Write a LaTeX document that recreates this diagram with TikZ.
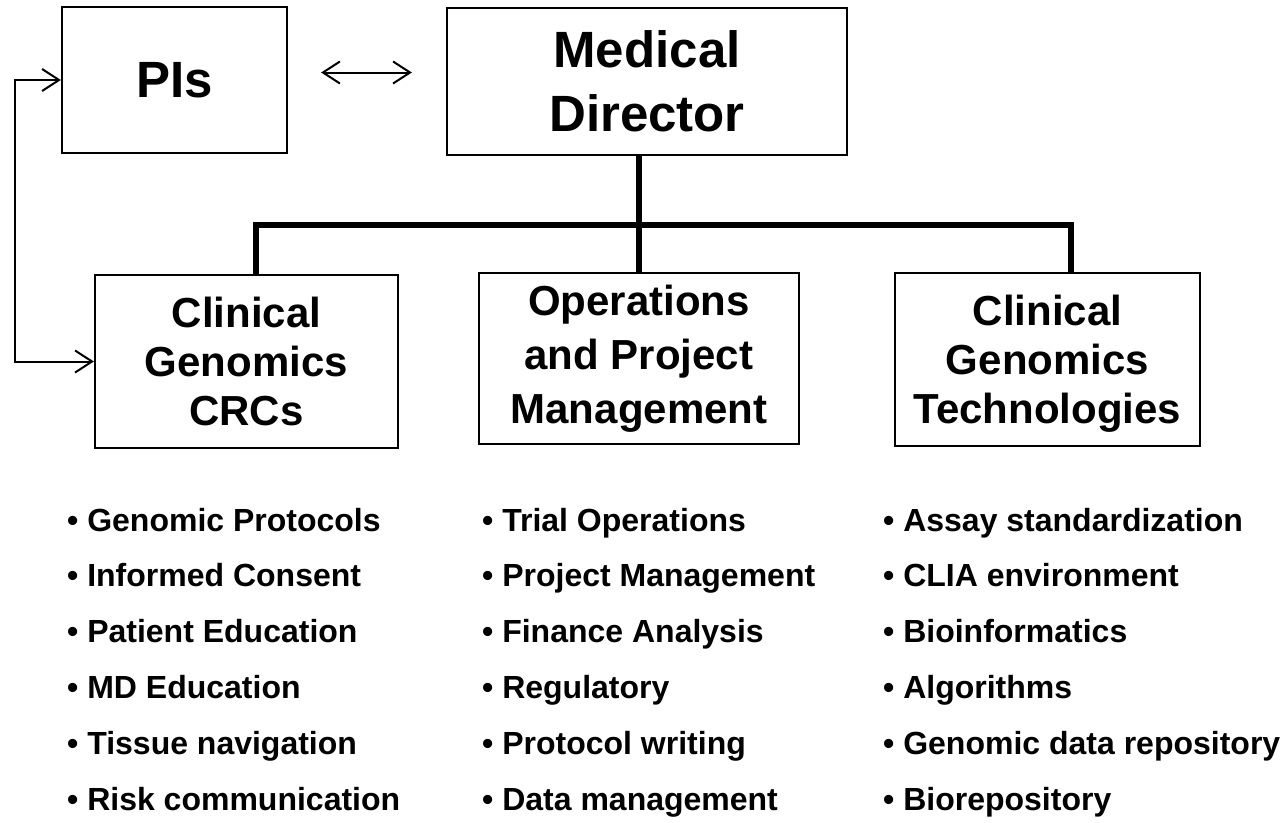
\documentclass[tikz,border=0pt]{standalone}
\usepackage{fontspec}
\setmainfont{Liberation Sans}
\usetikzlibrary{arrows.meta}
\begin{document}
\begin{tikzpicture}[x=1pt,y=-1pt,
  box/.style={draw, line width=2.2pt, rectangle, inner sep=0pt, align=center,
              font=\bfseries\fontsize{42}{49}\selectfont},
  bigbox/.style={box, font=\bfseries\fontsize{51}{64}\selectfont},
  item/.style={anchor=base west, inner sep=0pt, font=\bfseries\fontsize{32}{36}\selectfont},
  bar/.style={line width=5.7pt, line join=miter},
  mybarb/.tip={Straight Barb[length=17pt,width=22pt]},
  link/.style={line width=2pt, mybarb-mybarb},
]
\useasboundingbox (0,0) rectangle (1282,822);

% boxes
\node[bigbox, minimum width=225, minimum height=146] (pis) at (174.5,80) {PIs};
\node[bigbox, minimum width=400, minimum height=147] (med) at (647,81.5) {Medical\\Director};
\node[box, minimum width=303, minimum height=173] (crc) at (246.5,361.5) {Clinical\\Genomics\\CRCs};
\node[box, minimum width=320, minimum height=171, font=\bfseries\fontsize{42}{54}\selectfont] (ops) at (639,358.5) {Operations\\and Project\\Management};
\node[box, minimum width=305, minimum height=173, text depth=0pt] (tech) at (1047.5,359.5) {Clinical\\Genomics\\Technologies};

% tree connectors
\coordinate (jl) at (256,225);
\coordinate (jr) at (1071,225);
\draw[bar] (ops.north) -- (ops.north |- med.south);
\draw[bar] (jl |- crc.north) -- (jl) -- (jr) -- (jr |- tech.north);

% PIs <-> Medical Director
\draw[link, shorten <=33pt, shorten >=34pt] ([yshift=7.5pt]pis.east) -- ([yshift=7.5pt]pis.east -| med.west);

% PIs <-> CRCs
\coordinate (lx) at (15,0);
\draw[link] (pis.west) -- (pis.west -| lx) -- (crc.west -| lx) -- (crc.west);

% bullet lists
\foreach \t [count=\i from 0] in {Genomic Protocols, Informed Consent, Patient Education, MD Education, Tissue navigation, Risk communication}
  \node[item] (l\i) at (67,531+55.8*\i) {• \t};
\foreach \t [count=\i from 0] in {Trial Operations, Project Management, Finance Analysis, Regulatory, Protocol writing, Data management}
  \node[item] (m\i) at (482,531+55.8*\i) {• \t};
\foreach \t [count=\i from 0] in {Assay standardization, CLIA environment, Bioinformatics, Algorithms, Genomic data repository, Biorepository}
  \node[item] (r\i) at (883,531+55.8*\i) {• \t};
\end{tikzpicture}
\end{document}
